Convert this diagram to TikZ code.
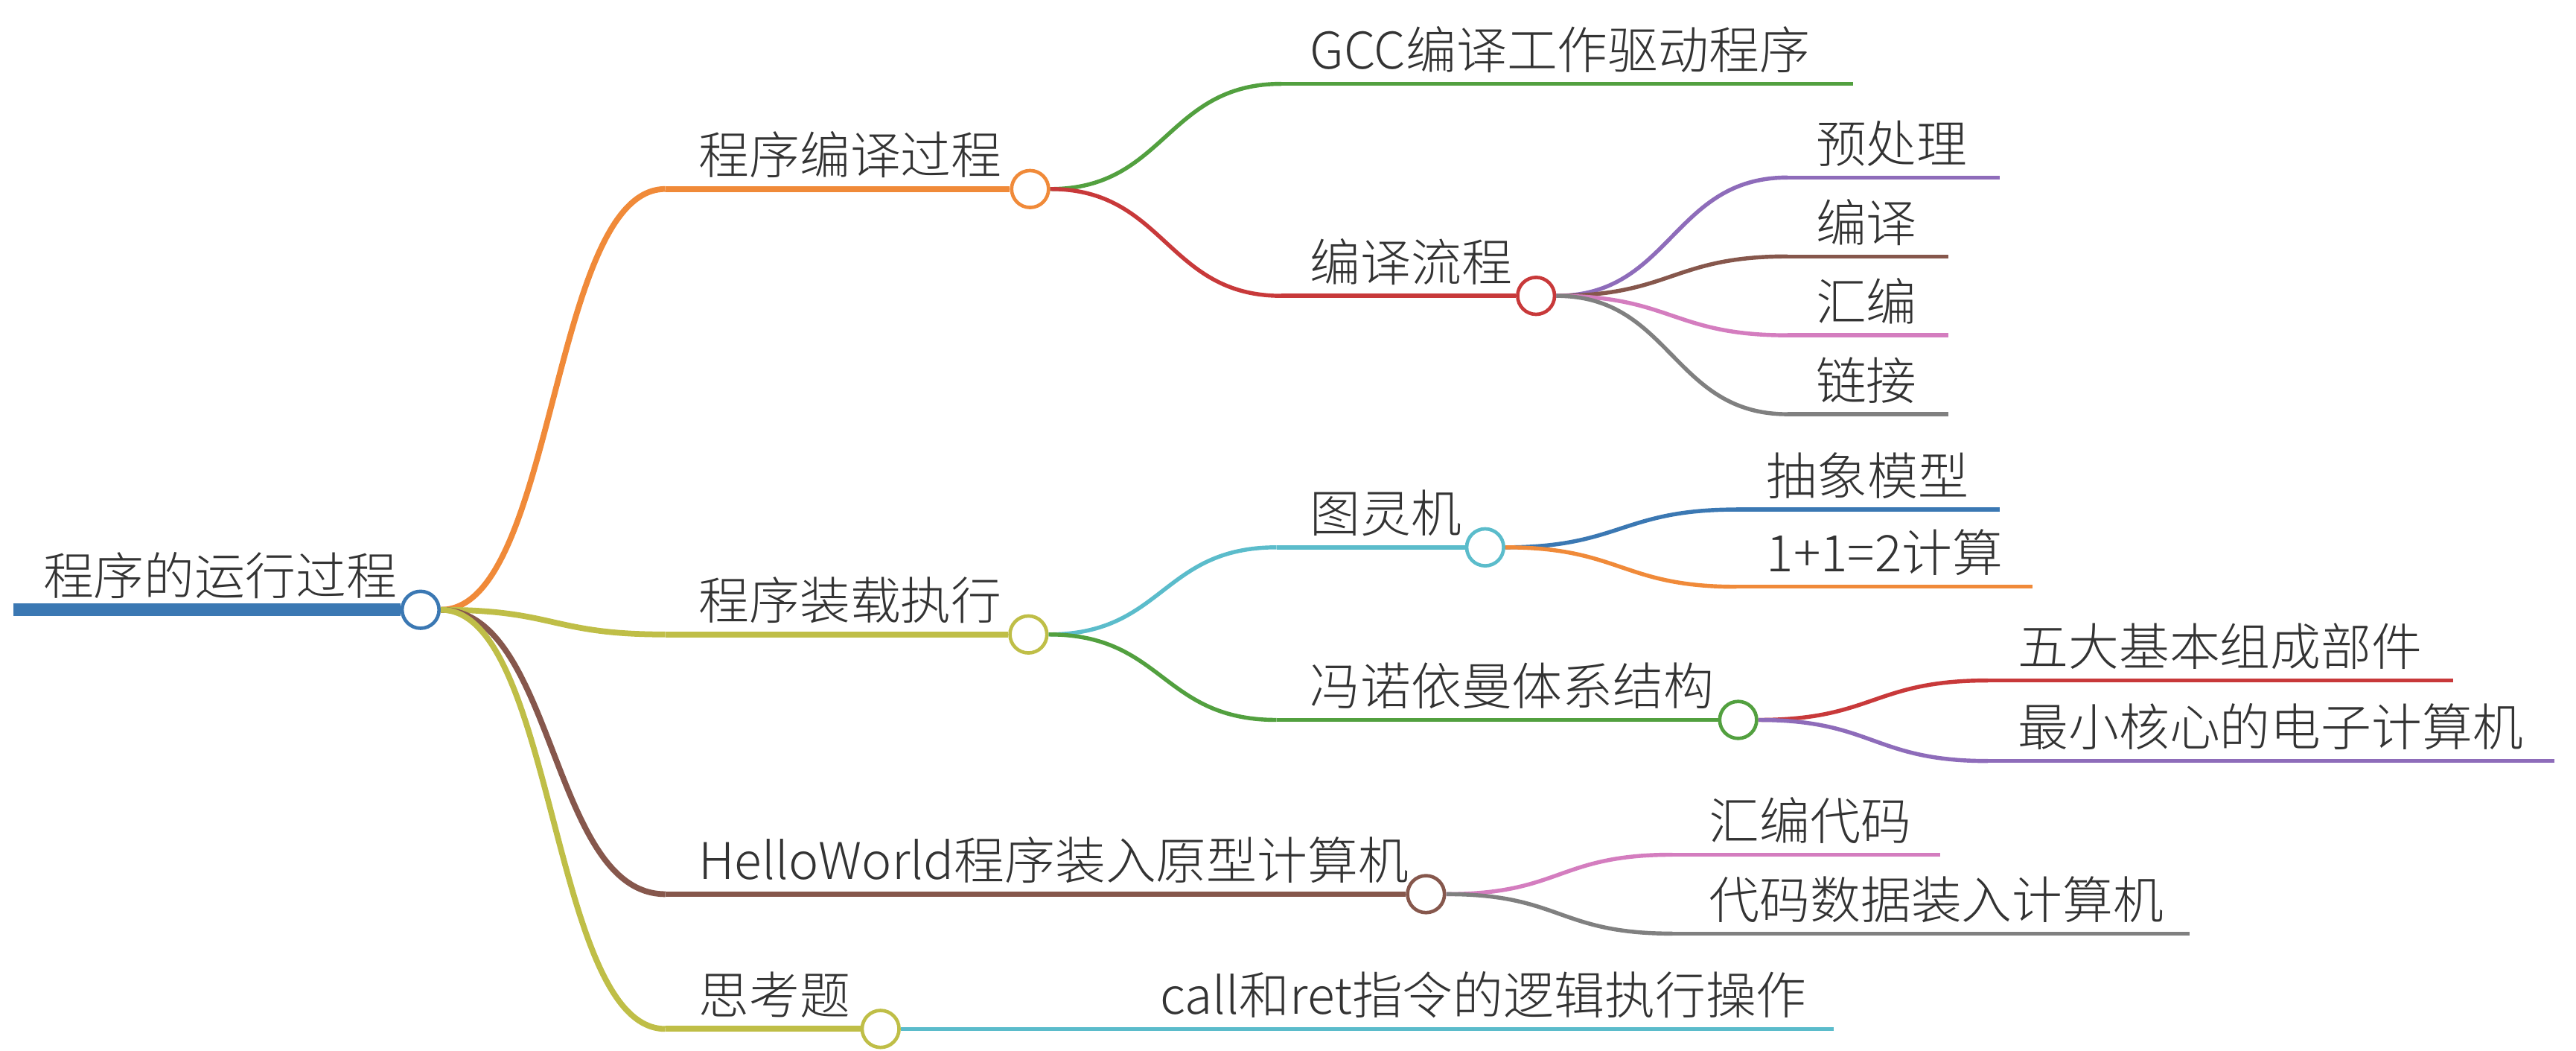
\documentclass[tikz,border=0pt]{standalone}
\usepackage{fontspec}
\setmainfont{Noto Sans CJK SC}[UprightFont=* Light]

\definecolor{mmblue}{HTML}{3B78B3}
\definecolor{mmorange}{HTML}{F08A39}
\definecolor{mmgreen}{HTML}{52A03F}
\definecolor{mmred}{HTML}{C8393A}
\definecolor{mmpurple}{HTML}{8E6CBA}
\definecolor{mmbrown}{HTML}{86574C}
\definecolor{mmpink}{HTML}{D47DBF}
\definecolor{mmgray}{HTML}{808080}
\definecolor{mmolive}{HTML}{BFBE47}
\definecolor{mmcyan}{HTML}{5BBCCB}

\tikzset{
    topic/.style={inner sep=0pt, anchor=base west, text=black!80, font=\fontsize{17.5}{21}\selectfont},
    dot/.style={circle, draw=#1, fill=white, line width=1.2pt, minimum size=0.45cm, inner sep=0pt},
    link/.style={to path={.. controls +(70,0) and +(-70,0) .. (\tikztotarget)}},
    rootline/.style={line width=4.3pt},
    firstline/.style={line width=2pt},
    subline/.style={line width=1.4pt}
}

\begin{document}
\begin{tikzpicture}[x=0.02cm, y=-0.02cm]
    \useasboundingbox (0,0) rectangle (1568,639);

    % Define the start of every topic line
    \coordinate (root) at (8,371);
    \coordinate (a) at (405,115);
    \coordinate (a1) at (780,51);
    \coordinate (a2) at (780,180);
    \coordinate (a2a) at (1088,108);
    \coordinate (a2b) at (1088,156);
    \coordinate (a2c) at (1088,204);
    \coordinate (a2d) at (1088,252);
    \coordinate (b) at (405,386);
    \coordinate (b1) at (777,333);
    \coordinate (b1a) at (1057,310);
    \coordinate (b1b) at (1057,357);
    \coordinate (b2) at (777,438);
    \coordinate (b2a) at (1210,414);
    \coordinate (b2b) at (1210,463);
    \coordinate (c) at (405,544);
    \coordinate (c1) at (1018,520);
    \coordinate (c2) at (1018,568);
    \coordinate (d) at (405,626);
    \coordinate (d1) at (686,626);

    % Define the ends of the leaf lines
    \coordinate (a1-e) at (1128,51);
    \coordinate (a2a-e) at (1217,108);
    \coordinate (a2b-e) at (1186,156);
    \coordinate (a2c-e) at (1186,204);
    \coordinate (a2d-e) at (1186,252);
    \coordinate (b1a-e) at (1217,310);
    \coordinate (b1b-e) at (1237,357);
    \coordinate (b2a-e) at (1493,414);
    \coordinate (b2b-e) at (1555,463);
    \coordinate (c1-e) at (1181,520);
    \coordinate (c2-e) at (1333,568);
    \coordinate (d1-e) at (1116,626);

    % Draw circles at the end of every inner topic
    \node[dot=mmblue] (root-c) at (256,371) {};
    \node[dot=mmorange] (a-c) at (627,115) {};
    \node[dot=mmred] (a2-c) at (935,180) {};
    \node[dot=mmolive] (b-c) at (626,386) {};
    \node[dot=mmcyan] (b1-c) at (904,333) {};
    \node[dot=mmgreen] (b2-c) at (1058,438) {};
    \node[dot=mmbrown] (c-c) at (868,544) {};
    \node[dot=mmolive] (d-c) at (536,626) {};

    % Draw topic texts
    \node[topic] (root-t) at ([xshift=0.36cm,yshift=0.18cm]root) {程序的运行过程};
    \node[topic] (a-t) at ([xshift=0.4cm,yshift=0.18cm]a) {程序编译过程};
    \node[topic] (a1-t) at ([xshift=0.34cm,yshift=0.18cm]a1) {GCC编译工作驱动程序};
    \node[topic] (a2-t) at ([xshift=0.34cm,yshift=0.18cm]a2) {编译流程};
    \node[topic] (a2a-t) at ([xshift=0.34cm,yshift=0.18cm]a2a) {预处理};
    \node[topic] (a2b-t) at ([xshift=0.34cm,yshift=0.18cm]a2b) {编译};
    \node[topic] (a2c-t) at ([xshift=0.34cm,yshift=0.18cm]a2c) {汇编};
    \node[topic] (a2d-t) at ([xshift=0.34cm,yshift=0.18cm]a2d) {链接};
    \node[topic] (b-t) at ([xshift=0.4cm,yshift=0.18cm]b) {程序装载执行};
    \node[topic] (b1-t) at ([xshift=0.4cm,yshift=0.18cm]b1) {图灵机};
    \node[topic] (b1a-t) at ([xshift=0.36cm,yshift=0.18cm]b1a) {抽象模型};
    \node[topic] (b1b-t) at ([xshift=0.36cm,yshift=0.18cm]b1b) {1+1=2计算};
    \node[topic] (b2-t) at ([xshift=0.4cm,yshift=0.18cm]b2) {冯诺依曼体系结构};
    \node[topic] (b2a-t) at ([xshift=0.36cm,yshift=0.18cm]b2a) {五大基本组成部件};
    \node[topic] (b2b-t) at ([xshift=0.36cm,yshift=0.18cm]b2b) {最小核心的电子计算机};
    \node[topic] (c-t) at ([xshift=0.4cm,yshift=0.18cm]c) {HelloWorld程序装入原型计算机};
    \node[topic] (c1-t) at ([xshift=0.44cm,yshift=0.18cm]c1) {汇编代码};
    \node[topic] (c2-t) at ([xshift=0.44cm,yshift=0.18cm]c2) {代码数据装入计算机};
    \node[topic] (d-t) at ([xshift=0.4cm,yshift=0.18cm]d) {思考题};
    \node[topic] (d1-t) at ([xshift=0.4cm,yshift=0.18cm]d1) {call和ret指令的逻辑执行操作};

    % Draw topic lines
    \draw[rootline, mmblue] (root) -- (root-c.west);
    \draw[firstline, mmorange] (a) -- (a-c.west);
    \draw[subline, mmgreen] (a1) -- (a1-e);
    \draw[subline, mmred] (a2) -- (a2-c.west);
    \draw[subline, mmpurple] (a2a) -- (a2a-e);
    \draw[subline, mmbrown] (a2b) -- (a2b-e);
    \draw[subline, mmpink] (a2c) -- (a2c-e);
    \draw[subline, mmgray] (a2d) -- (a2d-e);
    \draw[firstline, mmolive] (b) -- (b-c.west);
    \draw[subline, mmcyan] (b1) -- (b1-c.west);
    \draw[subline, mmblue] (b1a) -- (b1a-e);
    \draw[subline, mmorange] (b1b) -- (b1b-e);
    \draw[subline, mmgreen] (b2) -- (b2-c.west);
    \draw[subline, mmred] (b2a) -- (b2a-e);
    \draw[subline, mmpurple] (b2b) -- (b2b-e);
    \draw[firstline, mmbrown] (c) -- (c-c.west);
    \draw[subline, mmpink] (c1) -- (c1-e);
    \draw[subline, mmgray] (c2) -- (c2-e);
    \draw[firstline, mmolive] (d) -- (d-c.west);
    \draw[subline, mmcyan] (d1) -- (d1-e);

    % Draw links from each circle to its children
    \draw[link, firstline, mmorange] (root-c.east) to (a);
    \draw[link, firstline, mmolive] (root-c.east) to (b);
    \draw[link, firstline, mmbrown] (root-c.east) to (c);
    \draw[link, firstline, mmolive] (root-c.east) to (d);
    \draw[link, subline, mmgreen] (a-c.east) to (a1);
    \draw[link, subline, mmred] (a-c.east) to (a2);
    \draw[link, subline, mmpurple] (a2-c.east) to (a2a);
    \draw[link, subline, mmbrown] (a2-c.east) to (a2b);
    \draw[link, subline, mmpink] (a2-c.east) to (a2c);
    \draw[link, subline, mmgray] (a2-c.east) to (a2d);
    \draw[link, subline, mmcyan] (b-c.east) to (b1);
    \draw[link, subline, mmgreen] (b-c.east) to (b2);
    \draw[link, subline, mmblue] (b1-c.east) to (b1a);
    \draw[link, subline, mmorange] (b1-c.east) to (b1b);
    \draw[link, subline, mmred] (b2-c.east) to (b2a);
    \draw[link, subline, mmpurple] (b2-c.east) to (b2b);
    \draw[link, subline, mmpink] (c-c.east) to (c1);
    \draw[link, subline, mmgray] (c-c.east) to (c2);
    \draw[link, subline, mmcyan] (d-c.east) to (d1);
\end{tikzpicture}
\end{document}
